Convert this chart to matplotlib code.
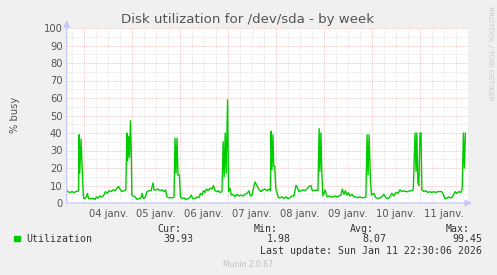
import matplotlib
matplotlib.use("Agg")
import matplotlib.pyplot as plt
from matplotlib.ticker import FixedLocator

# hours relative to 04 janv. 00:00, value in % busy
hours = [
    -8.8, -8.2, -7.2, -6.2, -5.2, -4.2, -3.2, -2.9,
    -2.6, -2.3, -1.6, -1.0, -0.5, -0.2,
    0.8, 1.6, 2.1, 3.4, 4.4, 5.4, 6.1, 6.8, 7.8, 8.8, 9.8, 10.6, 11.4, 12.4,
    13.4, 14.4, 15.4, 16.4, 17.1, 17.8, 18.8, 19.8, 20.8,
    21.3, 21.7, 22.1, 22.6, 23.1, 23.5, 23.8,
    24.4, 25.4, 26.4, 27.4, 28.4, 28.9, 29.6, 30.4, 31.4, 32.4, 33.4, 34.4,
    34.9, 35.9, 36.9, 37.9, 38.9, 39.9, 40.6, 41.4, 42.4, 43.4, 44.4, 44.9,
    45.4, 45.9, 46.4, 46.9, 47.6, 48.1,
    48.9, 49.9, 50.9, 51.9, 52.9, 53.4, 54.4, 55.4, 56.4, 57.4, 58.1, 58.9,
    59.6, 60.4, 61.1, 61.9, 62.9, 63.9, 64.6, 65.4, 66.4, 67.1, 67.8, 68.9,
    69.5, 70.0, 70.5, 71.0, 71.7, 72.2, 72.9, 73.6,
    74.4, 75.4, 76.4, 77.4, 78.4, 79.4, 80.4, 81.4, 82.4, 83.1, 83.9, 85.4,
    86.4, 87.4, 88.4, 89.4, 90.4, 91.4, 92.4, 93.1,
    93.5, 93.9, 94.4, 94.8, 95.3, 95.8, 96.5, 97.2,
    97.9, 98.9, 99.9, 100.9, 101.9, 102.9, 103.9, 104.9, 105.9, 106.6, 107.4,
    108.4, 109.4, 110.4, 111.4, 112.4, 113.4, 114.1, 114.9, 115.9, 116.9,
    117.5, 117.9, 118.4, 118.9, 119.4, 120.5, 121.4,
    122.4, 123.4, 124.4, 125.4, 126.4, 127.4, 128.4, 129.1, 129.9, 130.6,
    131.4, 132.1, 132.9, 133.9, 134.9, 135.9, 136.9, 137.9, 138.9, 139.9, 140.9,
    141.5, 142.0, 142.5, 143.2, 143.7, 144.9, 145.9,
    146.9, 147.9, 148.9, 149.9, 150.9, 151.9, 152.9, 153.9, 154.9, 155.9,
    156.9, 157.9, 158.9, 159.9, 160.9, 161.9, 162.9, 163.9, 164.6,
    165.5, 166.0, 166.4, 166.9, 167.4, 168.0, 168.5, 168.9,
    169.9, 170.9, 171.9, 172.9, 173.9, 174.9, 175.9, 176.9, 177.9, 178.9,
    179.6, 180.4, 181.4, 182.4, 183.1, 183.9, 184.9, 185.6, 186.4, 187.4,
    188.4, 189.1,
    189.7, 190.2, 190.7,
]
busy = [
    7.4, 6.5, 6, 6.5, 6, 6.5, 6.8, 7,
    39, 17, 36.6, 18, 4.5, 2.5,
    3, 5.5, 2.5, 2.5, 2.7, 2, 3.5, 2.8, 4, 3.5, 4.5, 6.5, 5.5, 7,
    6.5, 7.5, 7, 8.5, 9.5, 8, 6.5, 7, 7.5,
    40, 24, 38, 26, 47, 30, 4.5,
    4, 3.5, 2, 2.5, 3, 5.5, 2.5, 3, 6.5, 7, 7, 11.5,
    7.5, 7.5, 8, 7, 7.5, 6.5, 7.5, 3.5, 3, 3, 3, 3.5,
    37, 17, 37, 16, 16, 3.5,
    2.5, 3, 2, 2.5, 3, 4.5, 2.5, 2.5, 3.5, 3, 5.5, 4.5,
    7, 6, 8, 7, 8.5, 8, 10, 7, 6.5, 7, 6, 6.5,
    35, 15, 40, 17, 59, 6.5, 8.5, 4.5,
    5, 3.5, 5, 4, 4.5, 4, 5, 5.5, 7, 4, 4.5, 12,
    10, 7.5, 6.5, 7.5, 8, 7, 8, 7,
    41, 19, 39, 21, 21, 8.5, 5.5, 3,
    3, 3.5, 2.5, 3.5, 2.5, 3, 4, 4, 10, 9, 6.5,
    7, 7.5, 7, 8, 9.5, 10, 7, 7, 7.5, 7,
    42.5, 18, 40, 16, 4, 7.5, 3.5,
    4, 3.5, 3.5, 4, 3.5, 4, 4.5, 8, 5, 7,
    4.5, 6, 4, 5, 3.5, 3.5, 3, 3.5, 3, 3, 3.5,
    39, 16, 39, 13, 4.5, 5.5, 3,
    2.5, 3, 3.5, 5, 3, 2.5, 3.5, 5.5, 4, 6,
    5.5, 7.5, 6.5, 7, 6.5, 6.5, 7, 7, 7.5,
    40, 18, 40, 12, 10, 40, 40, 7.5,
    6.5, 7, 6, 6.5, 6, 6.5, 6, 6.5, 6.5, 6.5,
    5, 2.7, 2.7, 3.5, 3, 3, 5, 6.5, 5.5, 6.5,
    6, 8,
    40, 20, 39.93,
]
day_labels = ["04 janv.", "05 janv.", "06 janv.", "07 janv.",
              "08 janv.", "09 janv.", "10 janv.", "11 janv."]
y_ticks = list(range(0, 101, 10))
stats_names = ["Cur:", "Min:", "Avg:", "Max:"]
stats_values = ["39.93", "1.98", "8.07", "99.45"]

bg = "#F0F0F0"
txt = "#555555"
fig = plt.figure(figsize=(4.97, 2.75), dpi=100, facecolor=bg)
ax = fig.add_axes([66.7 / 497, 1 - 203 / 275, 401.3 / 497, 175 / 275])
ax.set_facecolor("white")

ax.set_xlim(-8.8, 192)
ax.set_ylim(0, 100)

# grid: minor gray, major red, both dotted
dots = (0, (1, 1.2))
for y in range(5, 100, 10):
    ax.axhline(y, color="#DEDEDE", lw=0.6, ls=dots, zorder=1)
for h in range(-6, 192, 6):
    if h % 24:
        ax.axvline(h, color="#DEDEDE", lw=0.6, ls=dots, zorder=1)
for y in y_ticks[1:]:
    ax.axhline(y, color="#F0B4B4", lw=0.6, ls=dots, zorder=2)
for d in range(0, 192, 24):
    ax.axvline(d, color="#F0B4B4", lw=0.6, ls=dots, zorder=2)

ax.plot(hours, busy, color="#00CC00", lw=1.0, zorder=3)

for s in ax.spines.values():
    s.set_visible(False)
ax.set_yticks(y_ticks)
ax.set_yticklabels([str(v) for v in y_ticks])
ax.xaxis.set_major_locator(FixedLocator([12 + 24 * i for i in range(len(day_labels))]))
ax.set_xticklabels(day_labels)
ax.tick_params(axis="both", length=0, labelsize=7.2, labelcolor=txt, pad=3)
ax.tick_params(axis="x", pad=4)

# axis arrows
axis_col = "#C8C8F8"
ax.annotate("", xy=(0, 1.045), xytext=(0, 0), xycoords="axes fraction",
            arrowprops=dict(arrowstyle="-|>,head_length=0.4,head_width=0.2",
                            color=axis_col, lw=0.9, shrinkA=0, shrinkB=0))
ax.annotate("", xy=(1.01, 0), xytext=(0, 0), xycoords="axes fraction",
            arrowprops=dict(arrowstyle="-|>,head_length=0.4,head_width=0.2",
                            color=axis_col, lw=0.9, shrinkA=0, shrinkB=0))

fig.text(248 / 497, 1 - 19 / 275, "Disk utilization for /dev/sda - by week",
         ha="center", va="center", fontsize=9.6, color=txt)
fig.text(15 / 497, 1 - 115 / 275, "% busy", rotation=90, ha="center",
         va="center", fontsize=7.2, color=txt)
fig.text(490 / 497, 1 - 6 / 275, "RRDTOOL / TOBI OETIKER", rotation=270,
         ha="center", va="top", fontsize=5.3, color="#C8C8C8")

# legend block
mono = dict(family="DejaVu Sans Mono", fontsize=7.15, color="#333333")
fig.patches.append(plt.Rectangle((14 / 497, 1 - 241 / 275), 5.5 / 497, 5.5 / 275,
                                 transform=fig.transFigure, color="#00CC00"))
fig.text(26.5 / 497, 1 - 239.5 / 275, "Utilization", ha="left", va="center", **mono)
name_right = [181, 278, 374, 470]
val_right = [193, 290.5, 386.5, 482.5]
for n, v, nr, vr in zip(stats_names, stats_values, name_right, val_right):
    fig.text(nr / 497, 1 - 228.5 / 275, n, ha="right", va="center", **mono)
    fig.text(vr / 497, 1 - 239.5 / 275, v, ha="right", va="center", **mono)
fig.text(482.5 / 497, 1 - 251 / 275, "Last update: Sun Jan 11 22:30:06 2026",
         ha="right", va="center", **mono)
fig.text(248 / 497, 1 - 264.5 / 275, "Munin 2.0.67", ha="center", va="center",
         fontsize=5.5, color="#C0C0C0")

fig.savefig("out.png", dpi=100, facecolor=bg)
